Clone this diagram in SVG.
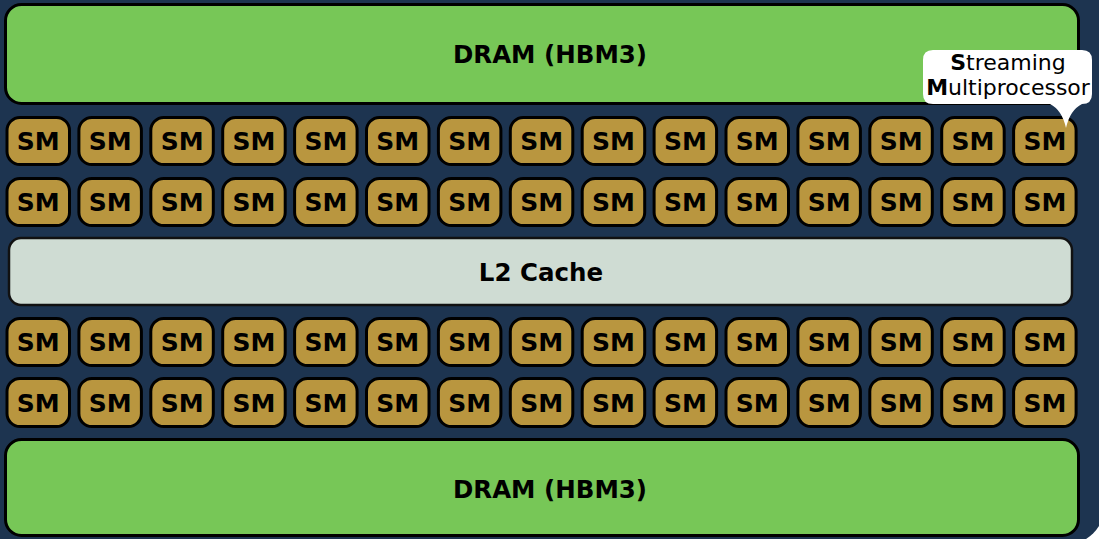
<svg xmlns="http://www.w3.org/2000/svg" width="1099" height="539" viewBox="0 0 1099 539">
<style>
.bg{fill:#1d3450}
.dram{fill:#77c757;stroke:#000;stroke-width:3}
.l2{fill:#cfdcd3;stroke:#111;stroke-width:2.5}
.sm{fill:#b9963f;stroke:#000;stroke-width:3}
.t{font-family:"DejaVu Sans",sans-serif;font-weight:bold;fill:#000;text-anchor:middle}
.big{font-size:24.5px}
.smt{font-size:25px}
.bub{font-family:"DejaVu Sans",sans-serif;font-size:22px;fill:#000;text-anchor:middle}
</style>
<rect class="bg" x="-40" y="-40" width="1145" height="585" rx="40"/>
<g id="dram-top"><rect class="dram" x="5.5" y="4.5" width="1073" height="99" rx="16"/><text class="t big" x="550" y="63">DRAM (HBM3)</text></g>
<g id="l2"><rect class="l2" x="9" y="238" width="1063" height="67" rx="12"/><text class="t big" x="541" y="281">L2 Cache</text></g>
<g id="dram-bottom"><rect class="dram" x="5.5" y="439.5" width="1073" height="96" rx="16"/><text class="t big" x="550" y="498">DRAM (HBM3)</text></g>
<g id="sm-r1">
<rect class="sm" x="7" y="117.5" width="62.5" height="47" rx="13"/><text class="t smt" x="38.3" y="150">SM</text>
<rect class="sm" x="78.9" y="117.5" width="62.5" height="47" rx="13"/><text class="t smt" x="110.2" y="150">SM</text>
<rect class="sm" x="150.8" y="117.5" width="62.5" height="47" rx="13"/><text class="t smt" x="182.1" y="150">SM</text>
<rect class="sm" x="222.7" y="117.5" width="62.5" height="47" rx="13"/><text class="t smt" x="254" y="150">SM</text>
<rect class="sm" x="294.6" y="117.5" width="62.5" height="47" rx="13"/><text class="t smt" x="325.9" y="150">SM</text>
<rect class="sm" x="366.5" y="117.5" width="62.5" height="47" rx="13"/><text class="t smt" x="397.8" y="150">SM</text>
<rect class="sm" x="438.4" y="117.5" width="62.5" height="47" rx="13"/><text class="t smt" x="469.7" y="150">SM</text>
<rect class="sm" x="510.3" y="117.5" width="62.5" height="47" rx="13"/><text class="t smt" x="541.6" y="150">SM</text>
<rect class="sm" x="582.2" y="117.5" width="62.5" height="47" rx="13"/><text class="t smt" x="613.5" y="150">SM</text>
<rect class="sm" x="654.1" y="117.5" width="62.5" height="47" rx="13"/><text class="t smt" x="685.4" y="150">SM</text>
<rect class="sm" x="726" y="117.5" width="62.5" height="47" rx="13"/><text class="t smt" x="757.3" y="150">SM</text>
<rect class="sm" x="797.9" y="117.5" width="62.5" height="47" rx="13"/><text class="t smt" x="829.2" y="150">SM</text>
<rect class="sm" x="869.8" y="117.5" width="62.5" height="47" rx="13"/><text class="t smt" x="901.1" y="150">SM</text>
<rect class="sm" x="941.7" y="117.5" width="62.5" height="47" rx="13"/><text class="t smt" x="973" y="150">SM</text>
<rect class="sm" x="1013.6" y="117.5" width="62.5" height="47" rx="13"/><text class="t smt" x="1044.9" y="150">SM</text>
</g>
<g id="sm-r2">
<rect class="sm" x="7" y="178.5" width="62.5" height="47" rx="13"/><text class="t smt" x="38.3" y="211">SM</text>
<rect class="sm" x="78.9" y="178.5" width="62.5" height="47" rx="13"/><text class="t smt" x="110.2" y="211">SM</text>
<rect class="sm" x="150.8" y="178.5" width="62.5" height="47" rx="13"/><text class="t smt" x="182.1" y="211">SM</text>
<rect class="sm" x="222.7" y="178.5" width="62.5" height="47" rx="13"/><text class="t smt" x="254" y="211">SM</text>
<rect class="sm" x="294.6" y="178.5" width="62.5" height="47" rx="13"/><text class="t smt" x="325.9" y="211">SM</text>
<rect class="sm" x="366.5" y="178.5" width="62.5" height="47" rx="13"/><text class="t smt" x="397.8" y="211">SM</text>
<rect class="sm" x="438.4" y="178.5" width="62.5" height="47" rx="13"/><text class="t smt" x="469.7" y="211">SM</text>
<rect class="sm" x="510.3" y="178.5" width="62.5" height="47" rx="13"/><text class="t smt" x="541.6" y="211">SM</text>
<rect class="sm" x="582.2" y="178.5" width="62.5" height="47" rx="13"/><text class="t smt" x="613.5" y="211">SM</text>
<rect class="sm" x="654.1" y="178.5" width="62.5" height="47" rx="13"/><text class="t smt" x="685.4" y="211">SM</text>
<rect class="sm" x="726" y="178.5" width="62.5" height="47" rx="13"/><text class="t smt" x="757.3" y="211">SM</text>
<rect class="sm" x="797.9" y="178.5" width="62.5" height="47" rx="13"/><text class="t smt" x="829.2" y="211">SM</text>
<rect class="sm" x="869.8" y="178.5" width="62.5" height="47" rx="13"/><text class="t smt" x="901.1" y="211">SM</text>
<rect class="sm" x="941.7" y="178.5" width="62.5" height="47" rx="13"/><text class="t smt" x="973" y="211">SM</text>
<rect class="sm" x="1013.6" y="178.5" width="62.5" height="47" rx="13"/><text class="t smt" x="1044.9" y="211">SM</text>
</g>
<g id="sm-r3">
<rect class="sm" x="7" y="318.5" width="62.5" height="47" rx="13"/><text class="t smt" x="38.3" y="351">SM</text>
<rect class="sm" x="78.9" y="318.5" width="62.5" height="47" rx="13"/><text class="t smt" x="110.2" y="351">SM</text>
<rect class="sm" x="150.8" y="318.5" width="62.5" height="47" rx="13"/><text class="t smt" x="182.1" y="351">SM</text>
<rect class="sm" x="222.7" y="318.5" width="62.5" height="47" rx="13"/><text class="t smt" x="254" y="351">SM</text>
<rect class="sm" x="294.6" y="318.5" width="62.5" height="47" rx="13"/><text class="t smt" x="325.9" y="351">SM</text>
<rect class="sm" x="366.5" y="318.5" width="62.5" height="47" rx="13"/><text class="t smt" x="397.8" y="351">SM</text>
<rect class="sm" x="438.4" y="318.5" width="62.5" height="47" rx="13"/><text class="t smt" x="469.7" y="351">SM</text>
<rect class="sm" x="510.3" y="318.5" width="62.5" height="47" rx="13"/><text class="t smt" x="541.6" y="351">SM</text>
<rect class="sm" x="582.2" y="318.5" width="62.5" height="47" rx="13"/><text class="t smt" x="613.5" y="351">SM</text>
<rect class="sm" x="654.1" y="318.5" width="62.5" height="47" rx="13"/><text class="t smt" x="685.4" y="351">SM</text>
<rect class="sm" x="726" y="318.5" width="62.5" height="47" rx="13"/><text class="t smt" x="757.3" y="351">SM</text>
<rect class="sm" x="797.9" y="318.5" width="62.5" height="47" rx="13"/><text class="t smt" x="829.2" y="351">SM</text>
<rect class="sm" x="869.8" y="318.5" width="62.5" height="47" rx="13"/><text class="t smt" x="901.1" y="351">SM</text>
<rect class="sm" x="941.7" y="318.5" width="62.5" height="47" rx="13"/><text class="t smt" x="973" y="351">SM</text>
<rect class="sm" x="1013.6" y="318.5" width="62.5" height="47" rx="13"/><text class="t smt" x="1044.9" y="351">SM</text>
</g>
<g id="sm-r4">
<rect class="sm" x="7" y="378.5" width="62.5" height="48" rx="13"/><text class="t smt" x="38.3" y="411.5">SM</text>
<rect class="sm" x="78.9" y="378.5" width="62.5" height="48" rx="13"/><text class="t smt" x="110.2" y="411.5">SM</text>
<rect class="sm" x="150.8" y="378.5" width="62.5" height="48" rx="13"/><text class="t smt" x="182.1" y="411.5">SM</text>
<rect class="sm" x="222.7" y="378.5" width="62.5" height="48" rx="13"/><text class="t smt" x="254" y="411.5">SM</text>
<rect class="sm" x="294.6" y="378.5" width="62.5" height="48" rx="13"/><text class="t smt" x="325.9" y="411.5">SM</text>
<rect class="sm" x="366.5" y="378.5" width="62.5" height="48" rx="13"/><text class="t smt" x="397.8" y="411.5">SM</text>
<rect class="sm" x="438.4" y="378.5" width="62.5" height="48" rx="13"/><text class="t smt" x="469.7" y="411.5">SM</text>
<rect class="sm" x="510.3" y="378.5" width="62.5" height="48" rx="13"/><text class="t smt" x="541.6" y="411.5">SM</text>
<rect class="sm" x="582.2" y="378.5" width="62.5" height="48" rx="13"/><text class="t smt" x="613.5" y="411.5">SM</text>
<rect class="sm" x="654.1" y="378.5" width="62.5" height="48" rx="13"/><text class="t smt" x="685.4" y="411.5">SM</text>
<rect class="sm" x="726" y="378.5" width="62.5" height="48" rx="13"/><text class="t smt" x="757.3" y="411.5">SM</text>
<rect class="sm" x="797.9" y="378.5" width="62.5" height="48" rx="13"/><text class="t smt" x="829.2" y="411.5">SM</text>
<rect class="sm" x="869.8" y="378.5" width="62.5" height="48" rx="13"/><text class="t smt" x="901.1" y="411.5">SM</text>
<rect class="sm" x="941.7" y="378.5" width="62.5" height="48" rx="13"/><text class="t smt" x="973" y="411.5">SM</text>
<rect class="sm" x="1013.6" y="378.5" width="62.5" height="48" rx="13"/><text class="t smt" x="1044.9" y="411.5">SM</text>
</g>
<g id="callout">
<path fill="#fff" d="M933,50 H1082 Q1092,50 1092,60 V94 Q1092,104 1082,104 Q1070,110 1066,128 Q1062,110 1050,104 H933 Q923,104 923,94 V60 Q923,50 933,50 Z"/>
<text class="bub" x="1008" y="70"><tspan font-weight="bold">S</tspan>treaming</text>
<text class="bub" x="1008" y="95"><tspan font-weight="bold">M</tspan>ultiprocessor</text>
</g>
</svg>
